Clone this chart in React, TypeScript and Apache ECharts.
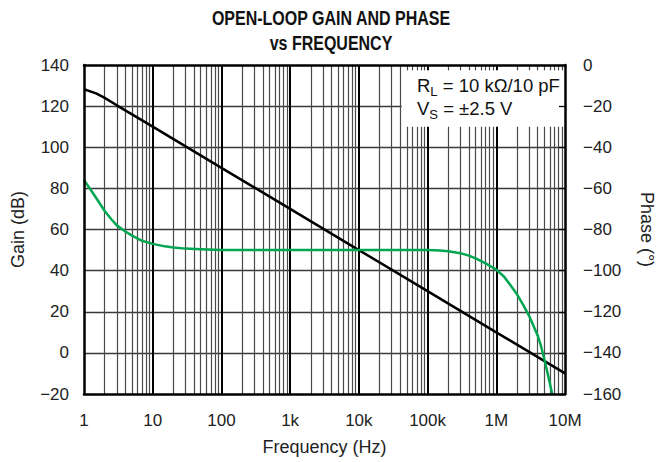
import React, { useEffect, useRef } from "react";
import * as echarts from "echarts";

// ---- data ----
const X_MIN = 1;
const X_MAX = 1e7;
const X_TICK_LABELS = ["1", "10", "100", "1k", "10k", "100k", "1M", "10M"];

const GAIN_MIN = -20;
const GAIN_MAX = 140;
const PHASE_MIN = -160;
const PHASE_MAX = 0;
const Y_STEP = 20;

const GAIN_FREQ = [1, 1.5, 2, 3, 5, 10, 100, 1e3, 1e4, 1e5, 1e6, 1e7];
const GAIN_DB = [128.2, 126.2, 124, 120.4, 116, 110, 90, 70, 50, 30, 10, -10];

const PHASE_FREQ = [
  1, 1.3, 1.6, 2, 2.5, 3, 4, 5, 7, 10, 15, 20, 30, 50, 100, 1e3, 1e4, 1e5,
  1.5e5, 2e5, 3e5, 4e5, 5e5, 7e5, 1e6, 1.3e6, 1.6e6, 2e6, 2.5e6, 3e6, 3.5e6,
  4e6, 4.5e6, 5e6, 5.5e6, 6e6, 6.5e6,
];
const PHASE_DEG = [
  -56, -61.5, -66, -71, -75, -78, -81, -83, -85.5, -87, -88.2, -88.8, -89.3,
  -89.6, -90, -90, -90, -90, -90.2, -90.6, -91.5, -92.7, -94, -96.5, -99.5,
  -103, -107, -111.5, -117, -122, -127, -131.5, -137, -143, -149, -154.5, -160,
];

const TITLE_LINES = ["OPEN-LOOP GAIN AND PHASE", "vs FREQUENCY"];
const NOTE_RL = ["R", "L", " = 10 kΩ/10 pF"];
const NOTE_VS = ["V", "S", " = ±2.5 V"];

// region of the plot kept clear for the note box (in data units)
const BOX_F_MIN = 4.2e4;
const BOX_GAIN_MIN = 110;

const FONT = "'Liberation Sans', Arial, Helvetica, sans-serif";

// log-grid structure
const DECADES: number[] = [];
for (let k = 1; k <= 6; k++) DECADES.push(Math.pow(10, k));
const MINOR: number[] = [];
for (let k = 0; k < 7; k++)
  for (let m = 2; m <= 9; m++) MINOR.push(m * Math.pow(10, k));
const H_LINES: number[] = [];
for (let g = GAIN_MIN + Y_STEP; g < GAIN_MAX; g += Y_STEP) H_LINES.push(g);

const minus = (v: number) => String(v).replace("-", "\u2212");

export default function App() {
  const ref = useRef<HTMLDivElement>(null);
  useEffect(() => {
    if (!ref.current) return;
    const chart = echarts.init(ref.current, undefined, { renderer: "svg" });

    const minorStyle = { color: "#4a4a4a", width: 1.2, type: "solid" };
    const majorStyle = { color: "#000", width: 2, type: "solid" };
    const hStyle = { color: "#3a3a3a", width: 1.3, type: "solid" };

    const vSegs = (f: number, style: any) =>
      f > BOX_F_MIN
        ? [
            [{ coord: [f, GAIN_MIN], lineStyle: style }, { coord: [f, BOX_GAIN_MIN] }],
            [{ coord: [f, GAIN_MAX], lineStyle: style }, { coord: [f, GAIN_MAX - 2.6] }],
          ]
        : [[{ coord: [f, GAIN_MIN], lineStyle: style }, { coord: [f, GAIN_MAX] }]];

    const gridLines: any[] = [
      ...H_LINES.map((g) => [
        { coord: [X_MIN, g], lineStyle: hStyle },
        { coord: [g >= BOX_GAIN_MIN ? BOX_F_MIN : X_MAX, g] },
      ]),
      ...MINOR.flatMap((f) => vSegs(f, minorStyle)),
      ...DECADES.flatMap((f) => vSegs(f, majorStyle)),
    ];

    const noteRich = {
      m: { fontSize: 18.5, fontFamily: FONT, fill: "#111", lineHeight: 25, verticalAlign: "middle" },
      s: { fontSize: 13, fontFamily: FONT, fill: "#111", lineHeight: 9, verticalAlign: "bottom" },
    };

    const titleStyle = (text: string) => ({
      text,
      font: `bold 20px ${FONT}`,
      fill: "#111",
      textAlign: "center",
      textVerticalAlign: "middle",
    });

    const axisLineStyle = { show: true, onZero: false, lineStyle: { color: "#000", width: 2.5 } };

    const option: any = {
      animation: false,
      backgroundColor: "#fff",
      textStyle: { fontFamily: FONT },
      grid: { left: 84, right: 92, top: 65, bottom: 68 },
      xAxis: [
        {
          type: "log",
          logBase: 10,
          min: X_MIN,
          max: X_MAX,
          interval: 1,
          position: "bottom",
          z: 3,
          axisLine: axisLineStyle,
          axisTick: { show: false },
          axisLabel: {
            fontSize: 17,
            color: "#222",
            margin: 18,
            fontFamily: FONT,
            formatter: (v: number) =>
              X_TICK_LABELS[Math.round(Math.log10(v))] ?? "",
          },
          splitLine: { show: false },
          name: "Frequency (Hz)",
          nameLocation: "middle",
          nameGap: 44,
          nameTextStyle: { fontSize: 18, color: "#222", fontFamily: FONT },
        },
        {
          type: "log",
          logBase: 10,
          min: X_MIN,
          max: X_MAX,
          interval: 1,
          position: "top",
          z: 3,
          axisLine: axisLineStyle,
          axisTick: { show: false },
          axisLabel: { show: false },
          splitLine: { show: false },
        },
      ],
      yAxis: [
        {
          type: "value",
          min: GAIN_MIN,
          max: GAIN_MAX,
          interval: Y_STEP,
          position: "left",
          z: 3,
          axisLine: axisLineStyle,
          axisTick: { show: false },
          axisLabel: {
            fontSize: 17,
            color: "#222",
            margin: 15,
            fontFamily: FONT,
            formatter: minus,
          },
          splitLine: { show: false },
          name: "Gain (dB)",
          nameLocation: "middle",
          nameGap: 57,
          nameTextStyle: { fontSize: 18, color: "#222", fontFamily: FONT },
        },
        {
          type: "value",
          min: PHASE_MIN,
          max: PHASE_MAX,
          interval: Y_STEP,
          position: "right",
          z: 3,
          axisLine: axisLineStyle,
          axisTick: {
            show: true,
            inside: true,
            length: 6,
            lineStyle: { color: "#000", width: 1.3 },
          },
          axisLabel: {
            fontSize: 17,
            color: "#222",
            margin: 18,
            fontFamily: FONT,
            formatter: minus,
          },
          splitLine: { show: false },
          name: "Phase (°)",
          nameLocation: "middle",
          nameRotate: -90,
          nameGap: 73,
          nameTextStyle: { fontSize: 18, color: "#222", fontFamily: FONT },
        },
      ],
      graphic: [
        { type: "text", z: 10, x: 331, y: 18, scaleX: 0.8, style: titleStyle(TITLE_LINES[0]) },
        { type: "text", z: 10, x: 331, y: 43, scaleX: 0.8, style: titleStyle(TITLE_LINES[1]) },
        {
          type: "text",
          z: 10,
          x: 417,
          y: 73,
          style: {
            text: `{m|${NOTE_RL[0]}}{s|${NOTE_RL[1]}}{m|${NOTE_RL[2]}}`,
            rich: noteRich,
          },
        },
        {
          type: "text",
          z: 10,
          x: 417,
          y: 96,
          style: {
            text: `{m|${NOTE_VS[0]}}{s|${NOTE_VS[1]}}{m|${NOTE_VS[2]}}`,
            rich: noteRich,
          },
        },
      ],
      series: [
        {
          type: "line",
          name: "grid",
          xAxisIndex: 0,
          yAxisIndex: 0,
          data: [],
          silent: true,
          markLine: {
            z: 1,
            silent: true,
            symbol: ["none", "none"],
            label: { show: false },
            emphasis: { disabled: true },
            data: gridLines,
          },
        },
        {
          type: "line",
          name: "Gain",
          z: 2,
          xAxisIndex: 0,
          yAxisIndex: 0,
          data: GAIN_FREQ.map((f, i) => [f, GAIN_DB[i]]),
          showSymbol: false,
          smooth: false,
          lineStyle: { color: "#000", width: 2.5 },
        },
        {
          type: "line",
          name: "Phase",
          z: 2,
          xAxisIndex: 0,
          yAxisIndex: 1,
          data: PHASE_FREQ.map((f, i) => [f, PHASE_DEG[i]]),
          showSymbol: false,
          smooth: false,
          lineStyle: { color: "#00a651", width: 2.5 },
        },
      ],
    };

    chart.setOption(option);
    return () => chart.dispose();
  }, []);

  return (
    <div
      ref={ref}
      style={{ position: "fixed", left: 0, top: 0, width: 664, height: 462, background: "#fff" }}
    />
  );
}
